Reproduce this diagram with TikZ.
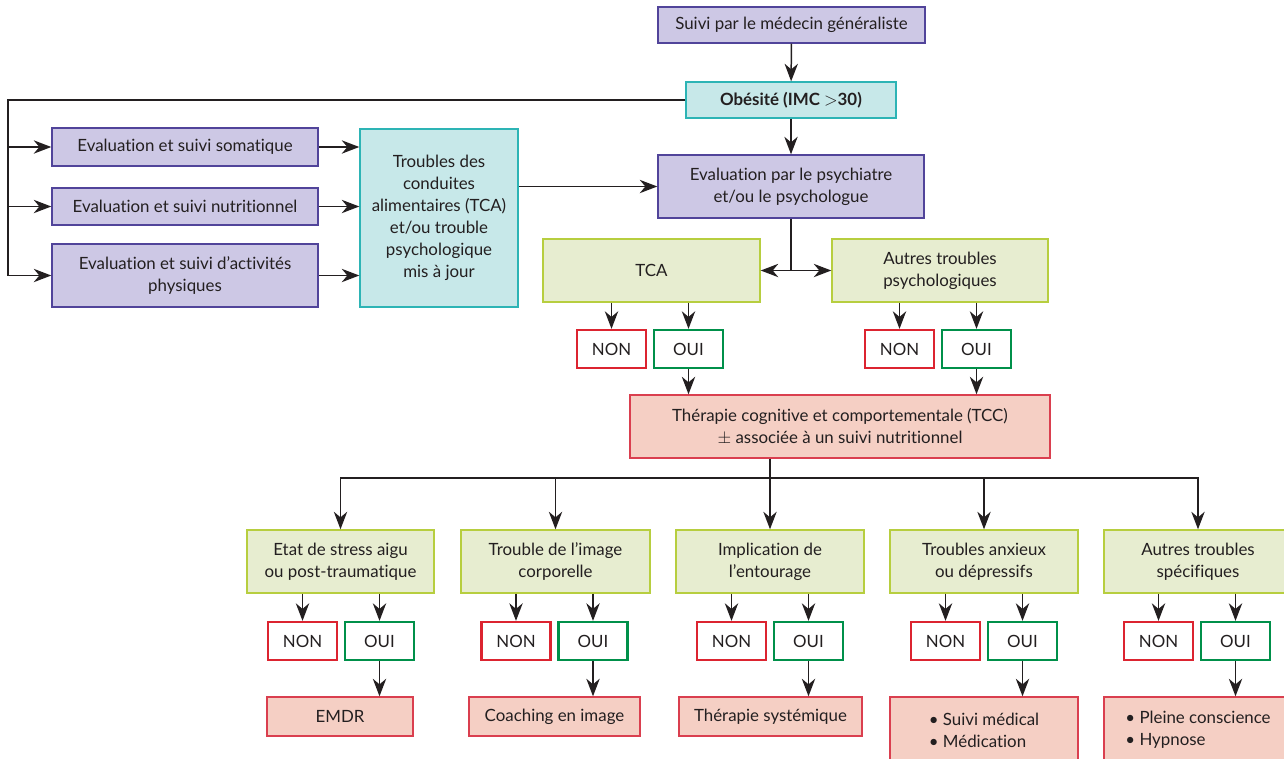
\documentclass[tikz,border=0pt]{standalone}
\usepackage{fontspec}
\setmainfont{Lato}[Ligatures={TeX,NoCommon}]
\usetikzlibrary{arrows.meta}
\definecolor{trait}{HTML}{231F20}
\definecolor{mauvefond}{HTML}{CDC8E5}
\definecolor{mauvebord}{HTML}{51449A}
\definecolor{bleufond}{HTML}{C7E8E9}
\definecolor{bleubord}{HTML}{2DB4B5}
\definecolor{vertfond}{HTML}{E7EDD0}
\definecolor{vertbord}{HTML}{B7CE3F}
\definecolor{rosefond}{HTML}{F5CFC4}
\definecolor{rosebord}{HTML}{DA3F4F}
\definecolor{nonbord}{HTML}{DC2430}
\definecolor{ouibord}{HTML}{00904A}

\begin{document}
\begin{tikzpicture}[x=0.02cm, y=-0.02cm, color=trait,
  font=\fontsize{9.6}{12.5}\selectfont,
  sz/.style 2 args={minimum width=#1*0.02cm, minimum height=#2*0.02cm},
  boite/.style={draw, line width=0.8pt, align=center, inner sep=0pt},
  mauve/.style={boite, fill=mauvefond, draw=mauvebord},
  bleu/.style={boite, fill=bleufond, draw=bleubord},
  vert/.style={boite, fill=vertfond, draw=vertbord},
  rose/.style={boite, fill=rosefond, draw=rosebord},
  non/.style={boite, sz={69}{38}, fill=white, draw=nonbord, line width=1.3pt},
  oui/.style={boite, sz={69}{38}, fill=white, draw=ouibord, line width=1.3pt},
  arr/.style={-{Stealth[length=10pt, width=7.6pt, inset=3.2pt]}, line width=0.85pt}]
\useasboundingbox (0,0) rectangle (1284,758);
% Nodes
\node[mauve, sz={267}{36}] (gp) at (791.5,25) {Suivi par le médecin généraliste};
\node[bleu, sz={210}{36}] (obes) at (791,100) {\textbf{Obésité (IMC $>$30)}};
\node[mauve, sz={266}{63}] (psy) at (791,186.5) {Evaluation par le psychiatre\\et/ou le psychologue};
\node[mauve, sz={266}{38}] (soma) at (185,147) {Evaluation et suivi somatique};
\node[mauve, sz={266}{37}] (nutri) at (185,206.5) {Evaluation et suivi nutritionnel};
\node[mauve, sz={266}{63}] (activ) at (185,275.5) {Evaluation et suivi d’activités\\physiques};
\node[bleu, sz={158}{178}] (tcamaj) at (439,218) {Troubles des\\conduites\\alimentaires (TCA)\\et/ou trouble\\psychologique\\mis à jour};
\node[vert, sz={217}{63}] (tca) at (651.5,270.5) {TCA};
\node[vert, sz={216}{63}] (autpsy) at (940,270.5) {Autres troubles\\psychologiques};
\node[non] (non1) at (611.5,349) {NON};
\node[oui] (oui1) at (688.5,349) {OUI};
\node[non] (non2) at (899.5,349) {NON};
\node[oui] (oui2) at (976.5,349) {OUI};
\node[rose, sz={420}{63}] (tcc) at (840,426.5) {Thérapie cognitive et comportementale (TCC)\\$\pm$ associée à un suivi nutritionnel};
\node[vert, sz={187}{63}] (stress) at (340.5,561.5) {Etat de stress aigu\\ou post-traumatique};
\node[vert, sz={189}{63}] (image) at (555.5,561.5) {Trouble de l’image\\corporelle};
\node[vert, sz={188}{63}] (entour) at (770,561.5) {Implication de\\l’entourage};
\node[vert, sz={188}{63}] (anx) at (984,561.5) {Troubles anxieux\\ou dépressifs};
\node[vert, sz={188}{63}] (autspe) at (1198,561.5) {Autres troubles\\spécifiques};
\node[non] (non3) at (302.5,641) {NON};
\node[oui] (oui3) at (379.5,641) {OUI};
\node[non] (non4) at (516,641) {NON};
\node[oui] (oui4) at (593,641) {OUI};
\node[non] (non5) at (731.5,641) {NON};
\node[oui] (oui5) at (808.5,641) {OUI};
\node[non] (non6) at (945.5,641) {NON};
\node[oui] (oui6) at (1022.5,641) {OUI};
\node[non] (non7) at (1158.5,641) {NON};
\node[oui] (oui7) at (1235.5,641) {OUI};
\node[rose, sz={146}{39}] (emdr) at (340,716.5) {EMDR};
\node[rose, sz={171}{39}] (coach) at (554.5,716.5) {Coaching en image};
\node[rose, sz={183}{39}] (syst) at (770.5,716.5) {Thérapie systémique};
\node[rose, sz={188}{66}, align=left] (medic) at (984,730) {• Suivi médical\\• Médication};
\node[rose, sz={188}{66}, align=left] (hypno) at (1198,730) {• Pleine conscience\\• Hypnose};
% Lines
\coordinate (gauche) at (8,100);
\coordinate (fourche) at (psy.south |- tca.east);
\coordinate (bus) at (770,478);
\draw[arr] (gp) -- (obes);
\draw[arr] (obes) -- (psy);
\draw[arr] (obes.west) -- (gauche) |- (activ.west);
\draw[arr] (gauche |- soma) -- (soma.west);
\draw[arr] (gauche |- nutri) -- (nutri.west);
\draw[arr] (soma.east) -- (soma.east -| tcamaj.west);
\draw[arr] (nutri.east) -- (nutri.east -| tcamaj.west);
\draw[arr] (activ.east) -- (activ.east -| tcamaj.west);
\draw[arr] (tcamaj.east |- psy) -- (psy.west);
\draw[line width=0.85pt] (psy.south) -- (fourche);
\draw[arr] (fourche) -- (tca.east);
\draw[arr] (fourche) -- (autpsy.west);
\draw[arr] (tca.south -| non1) -- (non1);
\draw[arr] (tca.south -| oui1) -- (oui1);
\draw[arr] (autpsy.south -| non2) -- (non2);
\draw[arr] (autpsy.south -| oui2) -- (oui2);
\draw[arr] (oui1.south) -- (oui1.south |- tcc.north);
\draw[arr] (oui2.south) -- (oui2.south |- tcc.north);
\draw[line width=0.85pt] (tcc.south -| bus) -- (bus);
\draw[arr] (bus) -| (stress);
\draw[arr] (bus) -| (image);
\draw[arr] (bus) -- (entour);
\draw[arr] (bus) -| (anx);
\draw[arr] (bus) -| (autspe);
\draw[arr] (stress.south -| non3) -- (non3);
\draw[arr] (stress.south -| oui3) -- (oui3);
\draw[arr] (image.south -| non4) -- (non4);
\draw[arr] (image.south -| oui4) -- (oui4);
\draw[arr] (entour.south -| non5) -- (non5);
\draw[arr] (entour.south -| oui5) -- (oui5);
\draw[arr] (anx.south -| non6) -- (non6);
\draw[arr] (anx.south -| oui6) -- (oui6);
\draw[arr] (autspe.south -| non7) -- (non7);
\draw[arr] (autspe.south -| oui7) -- (oui7);
\draw[arr] (oui3.south) -- (oui3.south |- emdr.north);
\draw[arr] (oui4.south) -- (oui4.south |- coach.north);
\draw[arr] (oui5.south) -- (oui5.south |- syst.north);
\draw[arr] (oui6.south) -- (oui6.south |- medic.north);
\draw[arr] (oui7.south) -- (oui7.south |- hypno.north);
\end{tikzpicture}
\end{document}
